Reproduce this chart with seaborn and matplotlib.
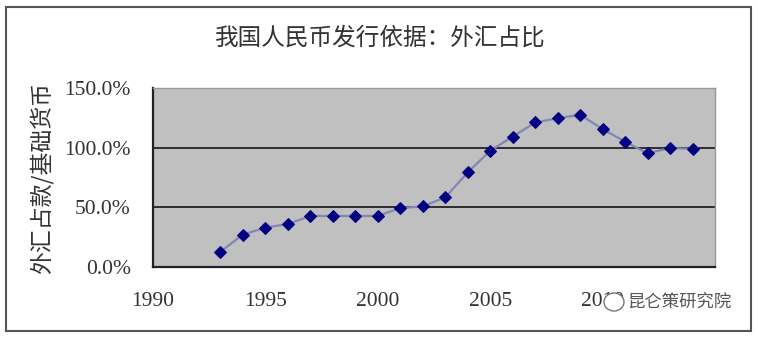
import matplotlib
matplotlib.use("Agg")
import matplotlib.pyplot as plt
import seaborn as sns
import pandas as pd
from matplotlib.patches import Rectangle, Ellipse

years = list(range(1993, 2015))
ratio = [12.8, 27.2, 33.0, 36.0, 42.8, 42.8, 42.8, 42.8, 49.4, 50.8, 58.3,
         79.2, 97.5, 109.2, 121.1, 124.7, 127.5, 115.6, 105.0, 95.3, 99.7, 98.9]
xticks = [1990, 1995, 2000, 2005, 2010, 2015]
xtick_labels = ["1990", "1995", "2000", "2005", "2010", ""]
yticks = [0, 50, 100, 150]
ytick_labels = ["0.0%", "50.0%", "100.0%", "150.0%"]
title = "我国人民币发行依据：外汇占比"
ylabel = "外汇占款/基础货币"
watermark = "昆仑策研究院"

df = pd.DataFrame({"year": years, "ratio": ratio})

sns.set_theme(style="white")
plt.rcParams["font.family"] = ["Noto Sans CJK SC", "DejaVu Sans"]

W, H = 758, 338
fig = plt.figure(figsize=(W / 100, H / 100), dpi=100)
ax = fig.add_axes([153 / W, (H - 267) / H, (715 - 153) / W, (267 - 88) / H])
ax.set_facecolor("#C0C0C0")

sns.lineplot(data=df, x="year", y="ratio", ax=ax, color="#8585B5", linewidth=1.6,
             marker="D", markersize=6.5, markerfacecolor="#000080",
             markeredgecolor="#000080")

ax.set_xlim(1990, 2015)
ax.set_ylim(0, 150)
ax.set_xticks(xticks)
ax.set_xticklabels(xtick_labels, fontfamily=["Liberation Serif", "DejaVu Serif"],
                   fontsize=15.5, color="#333333")
ax.set_yticks(yticks)
ax.set_yticklabels(ytick_labels, fontfamily=["Liberation Serif", "DejaVu Serif"],
                   fontsize=15.5, color="#333333")
ax.tick_params(axis="x", direction="in", length=6, width=1.2, color="#222222", pad=18)
ax.tick_params(axis="y", length=0, pad=16)
for v in [50, 100]:
    ax.axhline(v, color="#222222", linewidth=1.3, zorder=1)
for side in ["left", "bottom"]:
    ax.spines[side].set_color("#222222")
    ax.spines[side].set_linewidth(1.6)
for side in ["top", "right"]:
    ax.spines[side].set_color("#999999")
    ax.spines[side].set_linewidth(1.0)
ax.set_xlabel("")
ax.set_ylabel("")

fig.text(380 / W, 1 - 38 / H, title, ha="center", va="center", fontsize=17,
         color="#333333")
fig.text(42 / W, 1 - 178 / H, ylabel, ha="center", va="center", rotation=90,
         fontsize=16.5, color="#333333")

# watermark icon and text
fig.patches.append(Ellipse((614 / W, 1 - 302 / H), 20 / W, 18 / H,
                           transform=fig.transFigure, facecolor="white",
                           edgecolor="#777777", linewidth=1.0, zorder=5))
fig.text(627 / W, 1 - 302 / H, watermark, ha="left", va="center", fontsize=12.5,
         color="#555555", zorder=6)

fig.patches.append(Rectangle((6 / W, 1 - 331 / H), (751 - 6) / W, (331 - 7) / H,
                             transform=fig.transFigure, fill=False,
                             edgecolor="#555555", linewidth=1.5))

fig.savefig("out.png", dpi=100)
